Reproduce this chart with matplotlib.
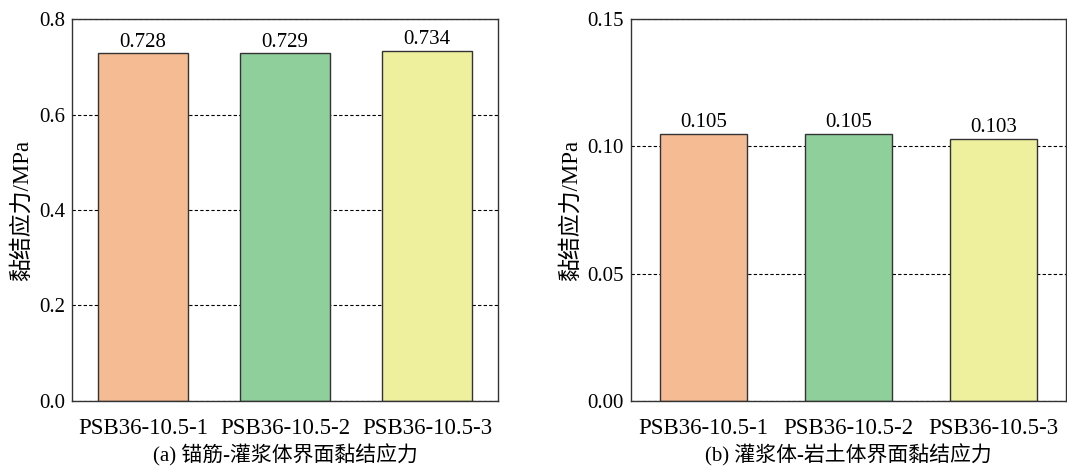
import matplotlib
matplotlib.use("Agg")
import matplotlib.pyplot as plt

plt.rcParams['font.family'] = ['Liberation Serif', 'Noto Sans CJK SC']
plt.rcParams['font.size'] = 15

samples = ["PSB36-10.5-1", "PSB36-10.5-2", "PSB36-10.5-3"]
stress_a = [0.728, 0.729, 0.734]   # 锚筋-灌浆体
stress_b = [0.105, 0.105, 0.103]   # 灌浆体-岩土体
colors = ["#F5BB93", "#8FCF9C", "#EEF09E"]

fig = plt.figure(figsize=(10.67, 4.66), dpi=100)
ax1 = fig.add_axes([0.0675, 0.1395, 0.3992, 0.8197])
ax2 = fig.add_axes([0.5914, 0.1395, 0.4077, 0.8197])

def draw(ax, vals, width, ylim, yticks, fmt, caption):
    x = range(len(samples))
    ax.set_axisbelow(True)
    ax.yaxis.grid(True, linestyle=(0, (3, 2)), color="black", linewidth=0.8)
    bars = ax.bar(x, vals, width=width, color=colors, edgecolor="#333333", linewidth=1.0)
    ax.bar_label(bars, fmt="%.3f", padding=1, fontsize=15)
    ax.set_xlim(-0.5, 2.5)
    ax.set_ylim(*ylim)
    ax.set_yticks(yticks)
    ax.set_yticklabels([fmt % v for v in yticks])
    ax.set_xticks(list(x))
    ax.set_xticklabels(samples, fontsize=16.5)
    ax.tick_params(axis="y", length=0, pad=5)
    ax.tick_params(axis="x", length=0, pad=12)
    ax.set_ylabel("黏结应力/MPa", labelpad=4, fontsize=16.5)
    ax.set_xlabel(caption, labelpad=4)
    for s in ax.spines.values():
        s.set_linewidth(1.0)
        s.set_color("#333333")

draw(ax1, stress_a, 0.63, (0, 0.8), [0.0, 0.2, 0.4, 0.6, 0.8], "%.1f",
     "(a) 锚筋-灌浆体界面黏结应力")
draw(ax2, stress_b, 0.6, (0, 0.15), [0.00, 0.05, 0.10, 0.15], "%.2f",
     "(b) 灌浆体-岩土体界面黏结应力")

fig.savefig("out.png", dpi=100)
